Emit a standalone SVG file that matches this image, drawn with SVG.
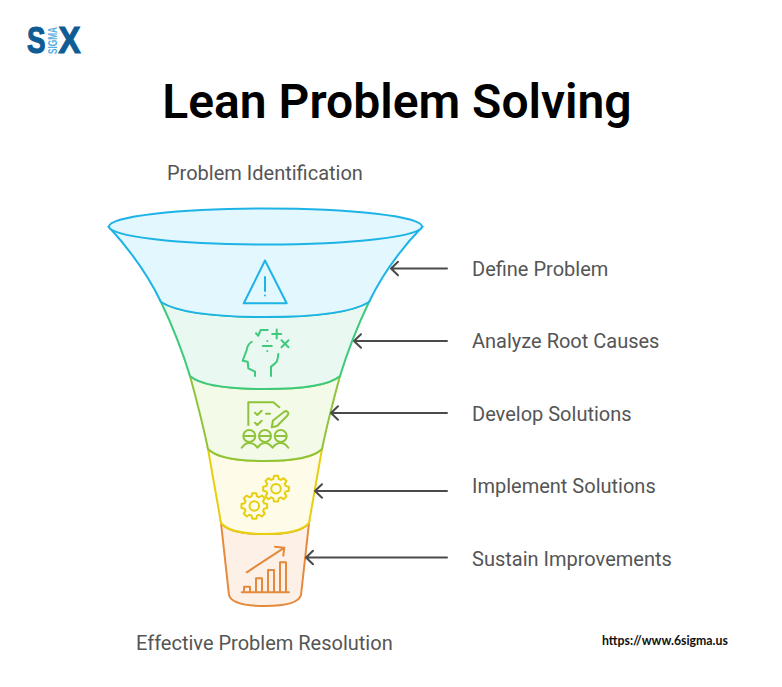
<svg xmlns="http://www.w3.org/2000/svg" width="782" height="687" viewBox="0 0 782 687">
<style>
.lb{font-family:"Roboto","Liberation Sans",sans-serif;font-size:20px;fill:#555}
.i{fill:none;stroke-width:2;stroke-linecap:round;stroke-linejoin:round}
.b{stroke:#1db3e6}.g{stroke:#3fc97d}.l{stroke:#8fc43a}.y{stroke:#e6cf10}.o{stroke:#e58a3c}
.conn path{fill:none;stroke:#4a4a4a;stroke-width:2;stroke-linecap:round;stroke-linejoin:round}
</style>
<defs>
<path id="gear" d="M9.61-2.76L12.84-2.03L12.84 2.03L9.61 2.76L8.75 4.85L10.52 7.64L7.64 10.52L4.85 8.75L2.76 9.61L2.03 12.84L-2.03 12.84L-2.76 9.61L-4.85 8.75L-7.64 10.52L-10.52 7.64L-8.75 4.85L-9.61 2.76L-12.84 2.03L-12.84-2.03L-9.61-2.76L-8.75-4.85L-10.52-7.64L-7.64-10.52L-4.85-8.75L-2.76-9.61L-2.03-12.84L2.03-12.84L2.76-9.61L4.85-8.75L7.64-10.52L10.52-7.64L8.75-4.85Z"/>
</defs>
<rect width="782" height="687" fill="#fff"/>
<g id="logo">
<text x="27" y="53" textLength="18.500" lengthAdjust="spacingAndGlyphs" style="font-family:'Liberation Sans',sans-serif;font-weight:700;font-size:36px;fill:#0f5c94;stroke:#0f5c94;stroke-width:1.200px">S</text>
<text x="58.500" y="53" textLength="22" lengthAdjust="spacingAndGlyphs" style="font-family:'Liberation Sans',sans-serif;font-weight:700;font-size:36px;fill:#0f5c94;stroke:#0f5c94;stroke-width:1.200px">X</text>
<text transform="translate(57,54) rotate(-90)" textLength="27" lengthAdjust="spacingAndGlyphs" style="font-family:'Liberation Sans',sans-serif;font-weight:700;font-size:12px;fill:#5aaee0">SIGMA</text>
</g>
<text id="title" x="397" y="118" text-anchor="middle" style="font-family:'Roboto','Liberation Sans',sans-serif;font-weight:600;font-size:48px;fill:#000">Lean Problem Solving</text>
<text id="top-label" class="lb" x="167" y="180.300">Problem Identification</text>
<g id="stage-orange">
<path d="M221 523L229 595Q232 606 265 606Q298 606 301 595L309 523Q300 534 265 534Q230 534 221 523Z" fill="#fdf1e7" stroke="#e58a3c" stroke-width="2"/>
<g class="i o"><path d="M241.700 592.300H289"/><path d="M244 592V586.700H250V592M256 592V578.300H262V592M268 592V570H274V592M280 592V562.300H286V592"/><path d="M246.700 572.300L283.300 548.300M275 546.700L284.300 547.700L283.300 555.700"/></g>
</g>
<g id="stage-yellow">
<path d="M208 449L221 523Q230 534 265 534Q300 534 309 523L322 449Q310 461 265 461Q220 461 208 449Z" fill="#fefce8" stroke="#e6cf10" stroke-width="2"/>
<g class="i y"><use href="#gear" transform="translate(276,488.700)"/><circle cx="276" cy="488.700" r="4.800"/><use href="#gear" transform="translate(254.300,506)"/><circle cx="254.300" cy="506" r="4.800"/></g>
</g>
<g id="stage-lime">
<path d="M190 376C196 398 203 425 208 449Q220 461 265 461Q310 461 322 449C327 425 334 398 340 376Q325 389 265 389Q205 389 190 376Z" fill="#f3fae7" stroke="#8fc43a" stroke-width="2"/>
<g class="i l"><path d="M248.300 425V402.300H273.300L279.300 407.300"/><path d="M255 412.700L257.300 415L261.700 410.700M266 413.700H270M255 422.700L257.300 425L261.700 420.700"/><path d="M271.700 427.300L273 420.500L284.500 411.500Q286.500 410.500 288 412.300Q289 414 287.500 415.500L277 426Z"/><circle cx="249.300" cy="436" r="6"/><circle cx="265" cy="436" r="6"/><circle cx="280.700" cy="436" r="6"/><path d="M244.500 436H254M260.200 436H269.800M276 436H285.500"/><path d="M241.700 447.700Q245 443 249.300 443Q254 443 257.500 447.700Q261 443 265 443Q269 443 272.500 447.700Q276 443 280.700 443Q285 443 288.300 447.700"/></g>
</g>
<g id="stage-green">
<path d="M161 302C172 325 182 350 190 376Q205 389 265 389Q325 389 340 376C348 350 358 325 369 302Q345 317 265 317Q185 317 161 302Z" fill="#e9f9f1" stroke="#3fc97d" stroke-width="2"/>
<g class="i g"><path d="M251.700 341.700Q247 345 246.700 350L242.700 360.700L247.700 361.700L248.300 368.300L255 371.700V376"/><path d="M278.300 354Q278 358 276.700 361.700Q275 364 271 366.700V376"/><path d="M256 333.300L258.300 335.700L260.700 330H267.700"/><path d="M276.700 329.500V338.500M272.200 334H281.200M281.500 340.200L288.500 347.200M288.500 340.200L281.500 347.200M262.800 346H271.800M267.300 341V341.100M267.300 351V351.100"/></g>
</g>
<g id="stage-blue">
<path d="M109 227C130 250 148 275 161 302Q185 317 265 317Q345 317 369 302C382 275 400 250 422 227Z" fill="#e3f7fe" stroke="#1db3e6" stroke-width="2"/>
<ellipse cx="265.500" cy="226.500" rx="156.500" ry="18" fill="#e3f7fe" stroke="#1db3e6" stroke-width="2"/>
<g class="i b"><path d="M265 260.500L243.800 303.300H286.700Z"/><path d="M265 277V291M265 295.500V295.600"/></g>
</g>
<g id="connectors" class="conn">
<path d="M447 268.500H391M398 261.700L391 268.500L398 275.300"/>
<path d="M447 341H354M361 334.200L354 341L361 347.800"/>
<path d="M447 413H331M338 406.200L331 413L338 419.800"/>
<path d="M447 491H315M322 484.200L315 491L322 497.800"/>
<path d="M447 557.500H306M313 550.700L306 557.500L313 564.300"/>
</g>
<text class="lb" x="472" y="276.300">Define Problem</text>
<text class="lb" x="472" y="348.400">Analyze Root Causes</text>
<text class="lb" x="472" y="420.700">Develop Solutions</text>
<text class="lb" x="472" y="493.300">Implement Solutions</text>
<text class="lb" x="472" y="565.500">Sustain Improvements</text>
<text id="bottom-label" class="lb" x="136" y="649.500">Effective Problem Resolution</text>
<text id="url" x="602" y="645" style="font-family:'Lato','Liberation Sans',sans-serif;font-weight:700;font-size:12.300px;fill:#111">https://www.6sigma.us</text>
</svg>
